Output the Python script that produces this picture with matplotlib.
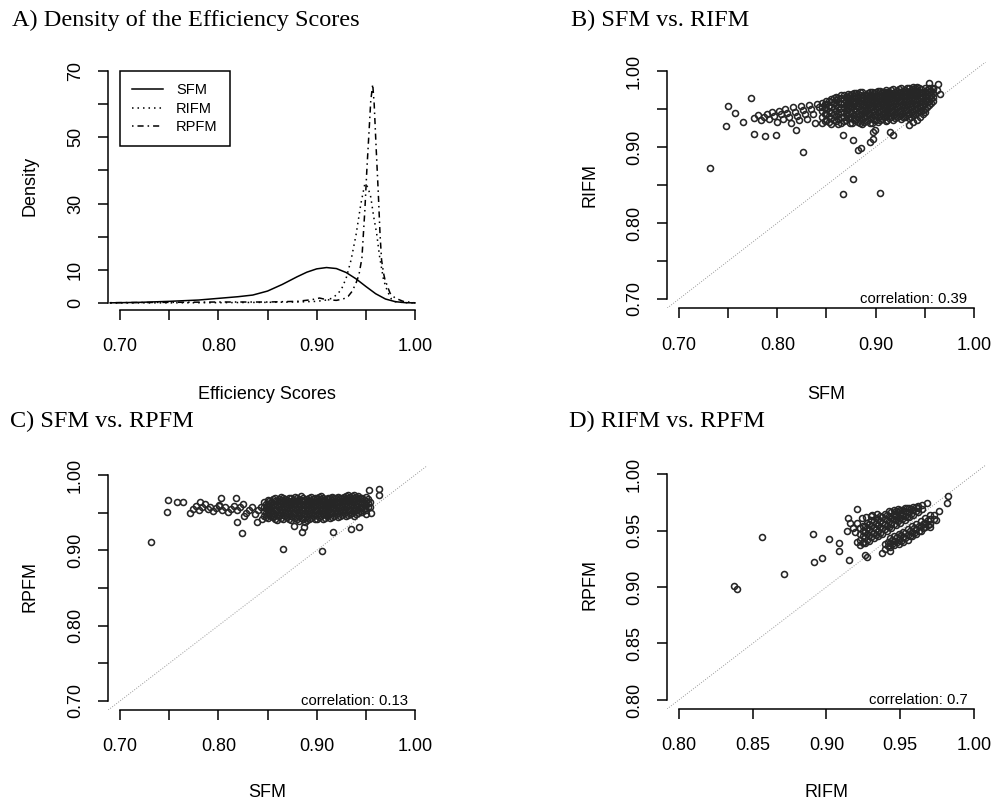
import matplotlib
matplotlib.use('Agg')
import matplotlib.pyplot as plt

# ---------------- data ----------------
# Panel A: density curves
sfm_dx = [0.690, 0.72, 0.75, 0.78, 0.80, 0.82, 0.835, 0.85, 0.865, 0.88, 0.89, 0.90,
          0.91, 0.92, 0.93, 0.94, 0.95, 0.96, 0.97, 0.98, 0.99, 1.00]
sfm_dy = [0.05, 0.2, 0.5, 0.9, 1.4, 1.9, 2.4, 3.6, 5.6, 7.9, 9.3, 10.3,
          10.7, 10.4, 9.2, 7.3, 5.0, 2.8, 1.2, 0.4, 0.1, 0.03]
rifm_dx = [0.69, 0.75, 0.80, 0.85, 0.88, 0.90, 0.91, 0.915, 0.92, 0.925, 0.93, 0.935,
           0.94, 0.945, 0.949, 0.952, 0.955, 0.958, 0.961, 0.964, 0.968, 0.972,
           0.976, 0.98, 0.99, 1.0]
rifm_dy = [0.02, 0.05, 0.1, 0.2, 0.3, 0.5, 0.9, 1.4, 2.4, 4.0, 7.5, 13.0,
           20.5, 30.0, 36.0, 35.0, 32.0, 26.0, 21.0, 14.0, 7.0, 3.5,
           1.2, 0.4, 0.1, 0.02]
rpfm_dx = [0.69, 0.75, 0.80, 0.85, 0.88, 0.895, 0.903, 0.91, 0.92, 0.927, 0.932, 0.936,
           0.940, 0.943, 0.946, 0.949, 0.951, 0.9535, 0.955, 0.957, 0.9585, 0.9603,
           0.9627, 0.9644, 0.966, 0.968, 0.9695, 0.9746, 0.9797, 0.988, 1.0]
rpfm_dy = [0.1, 0.2, 0.3, 0.3, 0.5, 1.0, 1.5, 1.0, 0.8, 1.2, 2.0, 3.5,
           6.0, 8.5, 13.5, 28.0, 40.0, 53.0, 61.0, 66.0, 60.0, 48.0,
           33.0, 21.0, 13.0, 9.0, 7.0, 3.0, 1.5, 0.5, 0.05]
density_labels = ['SFM', 'RIFM', 'RPFM']

# Panel B: SFM vs RIFM
b_out_sfm = [0.732, 0.750, 0.748, 0.757, 0.773, 0.765, 0.776, 0.787, 0.799, 0.819, 0.826,
             0.867, 0.877, 0.877, 0.867, 0.904,
             0.882, 0.885, 0.894, 0.897, 0.897, 0.899, 0.915, 0.918, 0.934, 0.938, 0.945,
             0.950, 0.942, 0.948, 0.954, 0.963, 0.962, 0.938, 0.925, 0.958, 0.965,
             0.776, 0.780, 0.783, 0.786, 0.789, 0.792, 0.795, 0.797, 0.800, 0.802, 0.804,
             0.806, 0.808, 0.810, 0.812, 0.814, 0.816, 0.818, 0.820, 0.822, 0.824, 0.826,
             0.828, 0.830, 0.832, 0.834, 0.836, 0.838, 0.840, 0.842]
b_out_rifm = [0.872, 0.954, 0.927, 0.945, 0.965, 0.933, 0.917, 0.915, 0.916, 0.922, 0.893,
              0.916, 0.909, 0.858, 0.838, 0.840,
              0.896, 0.899, 0.906, 0.910, 0.920, 0.923, 0.920, 0.916, 0.929, 0.933, 0.940,
              0.946, 0.936, 0.943, 0.984, 0.983, 0.975, 0.979, 0.973, 0.978, 0.970,
              0.938, 0.942, 0.935, 0.940, 0.944, 0.937, 0.946, 0.941, 0.933, 0.948, 0.943,
              0.937, 0.950, 0.945, 0.939, 0.931, 0.952, 0.946, 0.941, 0.935, 0.954, 0.949,
              0.943, 0.937, 0.955, 0.950, 0.944, 0.931, 0.957, 0.952]
b_col_sfm = [0.845, 0.850, 0.855, 0.860, 0.865, 0.870, 0.874, 0.878, 0.882, 0.886, 0.890,
             0.894, 0.898, 0.902, 0.906, 0.910, 0.914, 0.918, 0.922, 0.926, 0.930, 0.934,
             0.938, 0.942, 0.946, 0.950, 0.954, 0.958,
             0.848, 0.853, 0.858, 0.862, 0.868, 0.872, 0.876, 0.880, 0.884, 0.888, 0.892,
             0.896, 0.900, 0.904, 0.908, 0.912, 0.916, 0.920, 0.924, 0.928, 0.932, 0.936,
             0.940, 0.944, 0.948, 0.952, 0.956]
b_col_rifm = [
    [0.932, 0.940, 0.947, 0.953, 0.958],
    [0.936, 0.943, 0.950, 0.956, 0.961],
    [0.930, 0.938, 0.945, 0.952, 0.959, 0.963],
    [0.934, 0.941, 0.948, 0.955, 0.962, 0.966],
    [0.932, 0.939, 0.946, 0.951, 0.957, 0.964, 0.968],
    [0.936, 0.943, 0.949, 0.955, 0.960, 0.966],
    [0.931, 0.940, 0.947, 0.953, 0.958, 0.963, 0.969],
    [0.935, 0.942, 0.950, 0.956, 0.961, 0.967, 0.971],
    [0.933, 0.939, 0.945, 0.952, 0.958, 0.964, 0.970],
    [0.930, 0.937, 0.944, 0.949, 0.955, 0.961, 0.966, 0.972],
    [0.934, 0.941, 0.947, 0.953, 0.959, 0.964, 0.969],
    [0.931, 0.938, 0.944, 0.951, 0.957, 0.962, 0.968, 0.973],
    [0.935, 0.942, 0.948, 0.954, 0.960, 0.966, 0.971],
    [0.933, 0.940, 0.946, 0.952, 0.958, 0.963, 0.969, 0.974],
    [0.937, 0.943, 0.950, 0.956, 0.961, 0.967, 0.972],
    [0.934, 0.941, 0.947, 0.953, 0.959, 0.965, 0.970, 0.975],
    [0.938, 0.945, 0.951, 0.957, 0.963, 0.968, 0.973],
    [0.936, 0.942, 0.948, 0.954, 0.960, 0.966, 0.971, 0.976],
    [0.939, 0.946, 0.952, 0.958, 0.964, 0.969, 0.974],
    [0.937, 0.943, 0.949, 0.955, 0.961, 0.967, 0.972, 0.977],
    [0.940, 0.947, 0.953, 0.959, 0.965, 0.970, 0.975],
    [0.938, 0.944, 0.950, 0.956, 0.962, 0.968, 0.973, 0.978],
    [0.942, 0.948, 0.954, 0.960, 0.966, 0.971, 0.976],
    [0.945, 0.951, 0.957, 0.963, 0.969, 0.974, 0.979],
    [0.947, 0.953, 0.959, 0.965, 0.971, 0.976],
    [0.950, 0.956, 0.962, 0.968, 0.973, 0.978],
    [0.955, 0.961, 0.967, 0.972, 0.977],
    [0.960, 0.966, 0.971, 0.976],
    [0.934, 0.944, 0.951, 0.957],
    [0.933, 0.941, 0.947, 0.954, 0.960],
    [0.936, 0.944, 0.951, 0.958, 0.964],
    [0.930, 0.937, 0.944, 0.952, 0.959, 0.965],
    [0.934, 0.940, 0.946, 0.952, 0.958, 0.963, 0.968],
    [0.938, 0.944, 0.951, 0.956, 0.961, 0.966, 0.970],
    [0.932, 0.938, 0.945, 0.953, 0.959, 0.965, 0.970],
    [0.937, 0.944, 0.948, 0.954, 0.960, 0.966, 0.971],
    [0.931, 0.936, 0.942, 0.949, 0.957, 0.962, 0.968, 0.972],
    [0.933, 0.940, 0.946, 0.951, 0.957, 0.963, 0.969],
    [0.936, 0.943, 0.949, 0.955, 0.960, 0.966, 0.971],
    [0.932, 0.939, 0.946, 0.952, 0.958, 0.963, 0.969, 0.973],
    [0.936, 0.944, 0.950, 0.956, 0.961, 0.967, 0.972],
    [0.935, 0.941, 0.948, 0.954, 0.959, 0.964, 0.970, 0.974],
    [0.939, 0.945, 0.951, 0.957, 0.963, 0.968, 0.973],
    [0.936, 0.943, 0.949, 0.955, 0.961, 0.967, 0.972],
    [0.940, 0.947, 0.953, 0.959, 0.965, 0.970, 0.975],
    [0.938, 0.944, 0.950, 0.956, 0.962, 0.968, 0.973],
    [0.941, 0.948, 0.954, 0.960, 0.966, 0.971, 0.976],
    [0.939, 0.945, 0.951, 0.957, 0.963, 0.969, 0.974],
    [0.942, 0.949, 0.955, 0.961, 0.967, 0.972, 0.977],
    [0.940, 0.946, 0.952, 0.958, 0.964, 0.970, 0.975],
    [0.944, 0.950, 0.956, 0.962, 0.968, 0.973, 0.978],
    [0.947, 0.954, 0.960, 0.966, 0.972, 0.977],
    [0.949, 0.955, 0.961, 0.967, 0.972],
    [0.953, 0.959, 0.965, 0.970, 0.975],
    [0.958, 0.964, 0.969, 0.974],
]
b_corr = '0.39'

# Panel C: SFM vs RPFM
c_out_sfm = [0.732, 0.749, 0.748, 0.758, 0.764, 0.771, 0.781, 0.801, 0.803, 0.818, 0.819,
             0.824, 0.826, 0.839, 0.844, 0.857, 0.866, 0.877, 0.885, 0.887, 0.905, 0.917,
             0.935, 0.943, 0.955, 0.953, 0.963, 0.963, 0.950,
             0.774, 0.777, 0.780, 0.783, 0.786, 0.789, 0.792, 0.795, 0.798, 0.801, 0.804,
             0.807, 0.810, 0.813, 0.816, 0.819, 0.822, 0.825, 0.828, 0.831, 0.834, 0.837,
             0.840, 0.843]
c_out_rpfm = [0.9115, 0.967, 0.951, 0.964, 0.964, 0.949, 0.964, 0.959, 0.969, 0.970, 0.938,
              0.923, 0.945, 0.937, 0.942, 0.945, 0.902, 0.932, 0.925, 0.931, 0.899, 0.924,
              0.928, 0.931, 0.949, 0.980, 0.982, 0.973, 0.948,
              0.955, 0.959, 0.953, 0.957, 0.961, 0.955, 0.958, 0.952, 0.956, 0.960, 0.954,
              0.957, 0.951, 0.955, 0.959, 0.953, 0.957, 0.961, 0.950, 0.954, 0.958, 0.948,
              0.953, 0.957]
c_col_sfm = [0.846, 0.850, 0.854, 0.858, 0.862, 0.866, 0.870, 0.874, 0.878, 0.882, 0.886,
             0.890, 0.894, 0.898, 0.902, 0.906, 0.910, 0.914, 0.918, 0.922, 0.926, 0.930,
             0.934, 0.938, 0.942, 0.946, 0.950, 0.954,
             0.848, 0.852, 0.856, 0.860, 0.864, 0.868, 0.872, 0.876, 0.880, 0.884, 0.888,
             0.892, 0.896, 0.900, 0.904, 0.908, 0.912, 0.916, 0.920, 0.924, 0.928, 0.932,
             0.936, 0.940, 0.944, 0.948, 0.952]
c_col_rpfm = [
    [0.946, 0.952, 0.958, 0.964],
    [0.943, 0.949, 0.955, 0.961, 0.967],
    [0.946, 0.952, 0.958, 0.964],
    [0.942, 0.948, 0.954, 0.960, 0.966, 0.970],
    [0.945, 0.951, 0.957, 0.963, 0.968],
    [0.941, 0.947, 0.953, 0.959, 0.965, 0.970],
    [0.944, 0.950, 0.956, 0.962, 0.967],
    [0.940, 0.946, 0.952, 0.958, 0.964, 0.969],
    [0.943, 0.949, 0.955, 0.961, 0.966, 0.971],
    [0.939, 0.945, 0.951, 0.957, 0.963, 0.968],
    [0.942, 0.948, 0.954, 0.960, 0.965, 0.970],
    [0.940, 0.946, 0.952, 0.958, 0.963, 0.968],
    [0.943, 0.949, 0.955, 0.961, 0.966, 0.971],
    [0.941, 0.947, 0.953, 0.959, 0.964, 0.969],
    [0.944, 0.950, 0.956, 0.962, 0.967, 0.971],
    [0.942, 0.948, 0.954, 0.960, 0.965, 0.970],
    [0.945, 0.951, 0.957, 0.963, 0.968],
    [0.943, 0.949, 0.955, 0.961, 0.966, 0.970],
    [0.946, 0.952, 0.958, 0.964, 0.969],
    [0.944, 0.950, 0.956, 0.962, 0.967, 0.971],
    [0.947, 0.953, 0.959, 0.965, 0.970],
    [0.945, 0.951, 0.957, 0.963, 0.968, 0.972],
    [0.948, 0.954, 0.960, 0.966, 0.971],
    [0.946, 0.952, 0.958, 0.964, 0.969, 0.974],
    [0.949, 0.955, 0.961, 0.967, 0.972],
    [0.951, 0.957, 0.963, 0.969],
    [0.954, 0.960, 0.966, 0.971],
    [0.958, 0.964],
    [0.944, 0.950, 0.956, 0.962],
    [0.947, 0.953, 0.959, 0.965],
    [0.944, 0.950, 0.956, 0.962, 0.968],
    [0.940, 0.947, 0.953, 0.960, 0.966],
    [0.943, 0.949, 0.955, 0.961, 0.967, 0.971],
    [0.945, 0.951, 0.957, 0.963, 0.968],
    [0.942, 0.948, 0.954, 0.960, 0.966, 0.970],
    [0.944, 0.950, 0.956, 0.962, 0.967],
    [0.941, 0.947, 0.953, 0.959, 0.965, 0.970],
    [0.943, 0.949, 0.955, 0.961, 0.967, 0.972],
    [0.938, 0.944, 0.950, 0.956, 0.962, 0.967],
    [0.942, 0.948, 0.954, 0.960, 0.966, 0.970],
    [0.945, 0.951, 0.957, 0.963, 0.968],
    [0.942, 0.948, 0.954, 0.960, 0.965, 0.970],
    [0.946, 0.952, 0.958, 0.963, 0.968, 0.972],
    [0.943, 0.949, 0.955, 0.961, 0.966],
    [0.947, 0.953, 0.959, 0.964, 0.969],
    [0.944, 0.950, 0.956, 0.962, 0.967, 0.971],
    [0.948, 0.954, 0.960, 0.966, 0.970],
    [0.946, 0.952, 0.958, 0.964, 0.969],
    [0.949, 0.955, 0.961, 0.967, 0.971],
    [0.947, 0.953, 0.959, 0.965, 0.970, 0.974],
    [0.950, 0.956, 0.962, 0.968, 0.972],
    [0.948, 0.954, 0.960, 0.966, 0.971],
    [0.952, 0.958, 0.964, 0.970],
    [0.955, 0.961, 0.967],
    [0.957, 0.963, 0.968],
]
c_corr = '0.13'

# Panel D: RIFM vs RPFM
d_out_rifm = [0.8374, 0.8395, 0.8562, 0.8715, 0.8907, 0.8918, 0.8968, 0.902, 0.9086, 0.9086,
              0.9156, 0.921, 0.9149, 0.916, 0.9137, 0.9194, 0.9205, 0.925, 0.9273, 0.9375,
              0.9431, 0.9307, 0.970, 0.9742, 0.9765, 0.9815, 0.9826, 0.968,
              0.918, 0.921, 0.924, 0.927, 0.930, 0.934, 0.926]
d_out_rpfm = [0.9005, 0.898, 0.9445, 0.9112, 0.9466, 0.9224, 0.9254, 0.9422, 0.9386, 0.9319,
              0.924, 0.969, 0.9608, 0.9564, 0.950, 0.949, 0.940, 0.9387, 0.9268, 0.9304,
              0.9321, 0.9637, 0.9534, 0.9593, 0.9675, 0.974, 0.9805, 0.974,
              0.952, 0.957, 0.961, 0.962, 0.963, 0.965, 0.928]
d_col_rifm = [0.923, 0.926, 0.929, 0.932, 0.935, 0.938, 0.941, 0.944, 0.947, 0.950, 0.953,
              0.956, 0.959, 0.962, 0.965,
              0.9245, 0.9275, 0.9305, 0.9335, 0.9365, 0.9395, 0.9425, 0.9455, 0.9485,
              0.9515, 0.9545, 0.9575, 0.9605,
              0.940, 0.943, 0.946, 0.949, 0.952, 0.955, 0.958, 0.961, 0.964, 0.967, 0.970,
              0.973,
              0.9415, 0.9445, 0.9475, 0.9505, 0.9535, 0.9565, 0.9595, 0.9625, 0.9655, 0.9685]
d_col_rpfm = [
    [0.937, 0.942, 0.947, 0.952],
    [0.939, 0.944, 0.949, 0.954],
    [0.941, 0.946, 0.951, 0.956],
    [0.943, 0.948, 0.953, 0.958],
    [0.945, 0.950, 0.955, 0.960],
    [0.947, 0.952, 0.957, 0.962],
    [0.950, 0.954, 0.959, 0.964],
    [0.952, 0.956, 0.961, 0.966],
    [0.955, 0.959, 0.963, 0.967],
    [0.957, 0.961, 0.965, 0.968],
    [0.959, 0.963, 0.967, 0.970],
    [0.962, 0.966, 0.970],
    [0.964, 0.968, 0.971],
    [0.966, 0.970, 0.972],
    [0.969, 0.973],
    [0.940, 0.945, 0.950, 0.954],
    [0.942, 0.947, 0.952, 0.957],
    [0.944, 0.949, 0.954, 0.959],
    [0.946, 0.951, 0.956, 0.961],
    [0.948, 0.953, 0.958, 0.963],
    [0.951, 0.956, 0.960, 0.965],
    [0.953, 0.958, 0.963, 0.967],
    [0.956, 0.960, 0.964, 0.968],
    [0.958, 0.962, 0.966, 0.969],
    [0.960, 0.964, 0.968],
    [0.962, 0.966, 0.970],
    [0.965, 0.969],
    [0.967, 0.971],
    [0.934, 0.938],
    [0.935, 0.939, 0.943],
    [0.937, 0.941, 0.945],
    [0.938, 0.942, 0.947],
    [0.940, 0.944, 0.949],
    [0.942, 0.946, 0.951],
    [0.945, 0.949, 0.954],
    [0.947, 0.951, 0.956],
    [0.950, 0.954, 0.958],
    [0.953, 0.957, 0.961],
    [0.956, 0.960, 0.964],
    [0.960, 0.964],
    [0.936, 0.940],
    [0.938, 0.942],
    [0.940, 0.944],
    [0.941, 0.946],
    [0.943, 0.948],
    [0.945, 0.950],
    [0.948, 0.952],
    [0.950, 0.954],
    [0.952, 0.956],
    [0.955, 0.959],
]
d_corr = '0.7'

titles = ['A) Density of the Efficiency Scores', 'B) SFM vs. RIFM',
          'C) SFM vs. RPFM', 'D) RIFM vs. RPFM']

# ---------------- drawing ----------------
SANS = ['Liberation Sans', 'DejaVu Sans']
SERIF = ['Liberation Serif', 'DejaVu Serif']
plt.rcParams['font.family'] = SANS

W, H = 993, 802
fig = plt.figure(figsize=(W / 100, H / 100), dpi=100)
fig.patch.set_facecolor('white')


def add_axes(l, t, r, b):
    return fig.add_axes([l / W, 1 - b / H, (r - l) / W, (b - t) / H])


def style(ax, xlim, ylim, xticks, xlabs, yticks, ylabs):
    ax.set_xlim(xlim)
    ax.set_ylim(ylim)
    ax.patch.set_alpha(0)
    for s in ['top', 'right']:
        ax.spines[s].set_visible(False)
    for s in ['left', 'bottom']:
        ax.spines[s].set_linewidth(1.1)
    ax.spines['left'].set_bounds(yticks[0], yticks[-1])
    ax.spines['bottom'].set_bounds(xticks[0], xticks[-1])
    ax.set_xticks(xticks)
    ax.set_xticklabels(xlabs)
    ax.set_yticks(yticks)
    ax.set_yticklabels(ylabs)
    ax.tick_params(axis='both', direction='out', length=7, width=1.1,
                   labelsize=13, colors='black')
    ax.tick_params(axis='x', pad=13.5)
    ax.tick_params(axis='y', pad=10.4)
    for lab in ax.get_yticklabels():
        lab.set_rotation(90)
        lab.set_va('center')


def expand(out_x, out_y, col_x, col_y):
    xs = list(out_x)
    ys = list(out_y)
    for cx, cys in zip(col_x, col_y):
        for cy in cys:
            xs.append(cx)
            ys.append(cy)
    return xs, ys


def scatter_panel(ax, xs, ys, lims, corr):
    ax.plot([lims[0], lims[1]], [lims[0], lims[1]], color='0.6', lw=0.7,
            ls=(0, (1, 1.6)), zorder=1)
    ax.plot(xs, ys, ls='none', marker='o', ms=4.3, mfc='none', mec='#262626',
            mew=1.15, zorder=3)
    ax.annotate('correlation: ' + corr, xy=(0.942, 0), xycoords='axes fraction',
                xytext=(0, 6.3), textcoords='offset points', ha='right',
                va='center', fontsize=10.7)


def fig_label(x, y, s, rot=0, **kw):
    if rot:
        fig.text(x / W, 1 - y / H, s, rotation=90, rotation_mode='anchor',
                 ha='center', va='baseline', fontsize=13, **kw)
    else:
        fig.text(x / W, 1 - y / H, s, ha='center', va='baseline', fontsize=13, **kw)


sc_ticks = [0.70, 0.75, 0.80, 0.85, 0.90, 0.95, 1.00]
sc_labs = ['0.70', '', '0.80', '', '0.90', '', '1.00']

# Panel A
axA = add_axes(108.2, 62, 426.8, 310)
axA.plot(sfm_dx, sfm_dy, color='black', lw=1.1, ls='-', label=density_labels[0])
axA.plot(rifm_dx, rifm_dy, color='black', lw=1.1, ls=(0, (1, 2.6)), label=density_labels[1])
axA.plot(rpfm_dx, rpfm_dy, color='black', lw=1.1, ls=(0, (1, 2.6, 4, 2.6)),
         label=density_labels[2])
style(axA, (0.688, 1.012), (-2.11, 72.72), sc_ticks, sc_labs,
      [0, 10, 20, 30, 40, 50, 60, 70], ['0', '10', '', '30', '', '50', '', '70'])
leg = axA.legend(loc='upper left', bbox_to_anchor=(0.70, 70),
                 bbox_transform=axA.transData, borderaxespad=0, frameon=True,
                 fancybox=False, edgecolor='black', framealpha=1, fontsize=10.5,
                 handlelength=2.1, handletextpad=0.9, labelspacing=0.29, borderpad=0.85)
leg.get_frame().set_linewidth(1.1)

# Panel B
axB = add_axes(667.2, 61.9, 985.8, 308.1)
bx, by = expand(b_out_sfm, b_out_rifm, b_col_sfm, b_col_rifm)
scatter_panel(axB, bx, by, (0.688, 1.012), b_corr)
style(axB, (0.688, 1.012), (0.688, 1.012), sc_ticks, sc_labs, sc_ticks, sc_labs)

# Panel C
axC = add_axes(108.2, 466, 426.8, 710)
cx, cy = expand(c_out_sfm, c_out_rpfm, c_col_sfm, c_col_rpfm)
scatter_panel(axC, cx, cy, (0.688, 1.012), c_corr)
style(axC, (0.688, 1.012), (0.688, 1.012), sc_ticks, sc_labs, sc_ticks, sc_labs)

# Panel D
axD = add_axes(667.0, 465, 985.8, 709)
dx, dy = expand(d_out_rifm, d_out_rpfm, d_col_rifm, d_col_rpfm)
scatter_panel(axD, dx, dy, (0.792, 1.008), d_corr)
d_ticks = [0.80, 0.85, 0.90, 0.95, 1.00]
d_labs = ['0.80', '0.85', '0.90', '0.95', '1.00']
style(axD, (0.792, 1.008), (0.792, 1.008), d_ticks, d_labs, d_ticks, d_labs)

# titles
for (x, y), t in zip([(12, 26), (571, 26), (10, 427), (569, 427)], titles):
    fig.text(x / W, 1 - y / H, t, ha='left', va='baseline', fontsize=17.5,
             family=SERIF)

# axis labels
fig_label(267, 398.5, 'Efficiency Scores')
fig_label(826, 398.5, 'SFM')
fig_label(267, 797, 'SFM')
fig_label(826, 797, 'RIFM')
fig_label(34, 186, 'Density', rot=True)
fig_label(594, 185, 'RIFM', rot=True)
fig_label(35, 586, 'RPFM', rot=True)
fig_label(594, 585, 'RPFM', rot=True)

fig.savefig('out.png', dpi=100, facecolor='white')
